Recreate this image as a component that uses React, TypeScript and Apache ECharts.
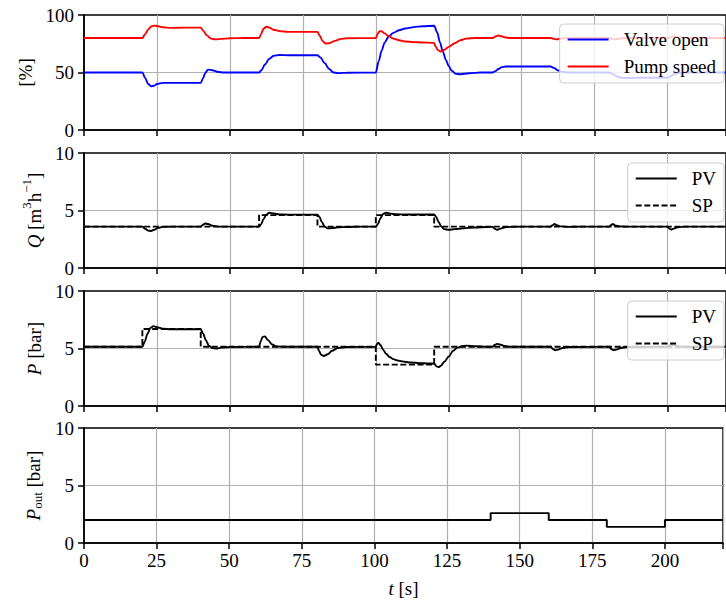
import React, { useEffect, useRef } from "react";
import * as echarts from "echarts";

const FONT = "Liberation Serif";
const FS = 19;

// time axis
const tMin = 0;
const tMax = 220;
const tStep = 25;

// Panel 1: [%]
const valveOpen: [number, number][] = [
  [0, 50], [20, 50], [21, 45], [22, 40], [23, 38], [24, 38.5], [25, 40], [27, 41], [30, 41], [40, 41],
  [40.8, 45], [41.5, 49.5], [42.5, 52.5], [44, 52], [46, 50.5], [48, 50], [60, 50],
  [60.8, 52], [62, 57], [63.5, 62], [65, 64.5], [67, 65.2], [70, 65], [80, 65],
  [81, 63], [82.5, 58], [84, 53], [85.5, 50], [87, 49.5], [90, 49.8], [100, 50],
  [101, 60], [102, 69], [103, 76], [104.5, 81.5], [106, 84.5], [108, 86.8], [110, 88.2], [113, 89.5], [116, 90.2], [120, 90.6],
  [121, 85], [122, 76], [123, 68], [124, 61], [125, 55.5], [126, 51.5], [127.5, 48.8], [129, 48.5], [132, 49.3], [136, 50], [140, 50],
  [141, 51.2], [142, 53], [143, 54.5], [144.5, 55.2], [147, 55.3], [160, 55.2],
  [161, 54], [162.5, 51.8], [164, 50.5], [166, 50], [180, 50],
  [181, 48.8], [182.5, 46.8], [184, 45.5], [186, 45.2], [190, 45.4], [200, 45.5],
  [201, 46.8], [202.5, 48.8], [204, 49.8], [206, 50], [220, 50],
];
const pumpSpeed: [number, number][] = [
  [0, 80], [20, 80], [21, 83.5], [22, 87.5], [23, 90], [24, 90.8], [25, 90.5], [27, 89.3], [30, 88.8], [35, 89], [40, 89],
  [41, 86], [42, 82.5], [43.5, 79.5], [45, 78.8], [47, 79.2], [50, 79.8], [55, 80], [60, 80],
  [60.7, 83.5], [61.5, 88], [62.5, 89.8], [63.5, 89], [65, 87.2], [67, 86], [70, 85.3], [80, 85.3],
  [80.8, 82], [81.7, 77.5], [82.7, 75.2], [84, 75.5], [86, 77.5], [88, 79.2], [90, 79.8], [100, 80],
  [100.6, 83.5], [101.3, 86], [102, 85.8], [103, 84], [104.5, 81.5], [106, 79.5], [108, 78], [110, 77], [113, 76.4], [116, 76.1], [120, 75.8],
  [120.5, 72.5], [121.3, 69.5], [122.2, 68.3], [123.5, 69.8], [125, 72.3], [127, 75.5], [129, 78], [131, 79.5], [134, 80], [140, 80],
  [141, 81.3], [142, 82.2], [143, 81.5], [144.5, 80.5], [146, 80], [160, 80],
  [161, 79.2], [162, 78.8], [163.5, 79.5], [166, 80], [180, 80],
  [181, 79.2], [182, 78.8], [183.5, 79.5], [186, 80], [200, 80],
  [201, 80.8], [202, 81.3], [203.5, 80.6], [206, 80], [220, 80],
];

// Panel 2: Q [m3/h]
const flowPV: [number, number][] = [
  [0, 3.6], [20, 3.6], [21, 3.4], [22, 3.25], [23, 3.22], [24, 3.32], [25.5, 3.5], [27, 3.58], [30, 3.6], [40, 3.6],
  [40.7, 3.75], [41.5, 3.87], [42.5, 3.82], [44, 3.68], [46, 3.6], [60, 3.6],
  [60.7, 3.8], [61.5, 4.25], [62.5, 4.65], [63.5, 4.8], [65, 4.74], [67, 4.66], [70, 4.64], [80, 4.64],
  [80.7, 4.45], [81.5, 4.0], [82.5, 3.6], [83.5, 3.45], [85, 3.47], [87, 3.53], [90, 3.57], [95, 3.6], [100, 3.6],
  [100.7, 3.8], [101.5, 4.3], [102.5, 4.7], [103.5, 4.8], [105, 4.73], [107, 4.67], [110, 4.65], [120, 4.65],
  [120.7, 4.45], [121.5, 4.0], [122.5, 3.6], [123.5, 3.38], [125, 3.32], [127, 3.38], [130, 3.45], [134, 3.52], [138, 3.57], [140, 3.58],
  [140.7, 3.42], [141.5, 3.32], [142.5, 3.4], [144, 3.52], [146, 3.58], [150, 3.6], [160, 3.6],
  [160.5, 3.72], [161.2, 3.82], [162, 3.72], [163.5, 3.62], [166, 3.58], [170, 3.6], [180, 3.6],
  [180.5, 3.72], [181.2, 3.82], [182, 3.7], [183.5, 3.62], [186, 3.6], [200, 3.6],
  [200.5, 3.45], [201.2, 3.35], [202, 3.42], [203.5, 3.55], [206, 3.6], [220, 3.6],
];
const flowSP: [number, number][] = [
  [0, 3.6], [60, 3.6], [60, 4.6], [80, 4.6], [80, 3.6], [100, 3.6], [100, 4.6], [120, 4.6], [120, 3.6], [220, 3.6],
];

// Panel 3: P [bar]
const pressurePV: [number, number][] = [
  [0, 5.15], [20, 5.15], [20.8, 5.6], [21.8, 6.3], [22.8, 6.8], [23.8, 6.95], [25, 6.85], [27, 6.72], [30, 6.68], [40, 6.68],
  [40.8, 6.3], [41.8, 5.7], [42.8, 5.25], [44, 5.03], [45.5, 5.0], [47, 5.08], [50, 5.13], [60, 5.15],
  [60.5, 5.6], [61.2, 6.0], [62, 6.05], [63, 5.75], [64.5, 5.35], [66, 5.17], [70, 5.15], [80, 5.15],
  [80.5, 4.8], [81.3, 4.45], [82.2, 4.35], [83.5, 4.5], [85, 4.8], [87, 5.05], [90, 5.13], [100, 5.15],
  [100.4, 5.4], [100.9, 5.5], [101.6, 5.3], [102.5, 4.9], [103.5, 4.55], [104.7, 4.26], [106, 4.08], [107.5, 3.96], [109, 3.88],
  [112, 3.78], [115, 3.73], [118, 3.7], [120, 3.68],
  [120.8, 3.45], [121.5, 3.38], [122.3, 3.5], [123.5, 3.85], [125, 4.3], [126.5, 4.8], [128, 5.08], [129.5, 5.2], [131, 5.25], [134, 5.2], [138, 5.15], [140, 5.15],
  [140.7, 5.3], [141.5, 5.4], [142.5, 5.35], [144, 5.22], [146, 5.15], [160, 5.15],
  [160.7, 4.95], [161.5, 4.85], [162.5, 4.9], [164, 5.05], [166, 5.13], [180, 5.15],
  [180.7, 4.95], [181.5, 4.85], [182.5, 4.9], [184, 5.05], [186, 5.13], [200, 5.15],
  [200.7, 5.28], [201.5, 5.33], [202.5, 5.27], [204, 5.18], [206, 5.15], [220, 5.15],
];
const pressureSP: [number, number][] = [
  [0, 5.15], [20, 5.15], [20, 6.7], [40, 6.7], [40, 5.15], [100, 5.15], [100, 3.6], [120, 3.6], [120, 5.15], [220, 5.15],
];

// Panel 4: P_out [bar]
const outletPressure: [number, number][] = [
  [0, 2.0], [140, 2.0], [140, 2.6], [160, 2.6], [160, 2.0], [180, 2.0], [180, 1.4], [200, 1.4], [200, 2.0], [220, 2.0],
];

const PANEL_TOPS = [15, 153, 291, 428];
const PANEL_H = 115;
const GRID_LEFT = 84;
const GRID_W = 650;

const txt = { fontFamily: FONT, fontSize: FS, color: "#000" };

function makeX(gi: number, last: boolean) {
  return {
    type: "value",
    gridIndex: gi,
    min: tMin,
    max: tMax,
    interval: tStep,
    axisLine: { show: true, onZero: false, lineStyle: { color: "#000", width: 1.5 } },
    axisTick: { show: true, length: 6, lineStyle: { color: "#000", width: 1.5 } },
    axisLabel: {
      show: last,
      ...txt,
      margin: 8,
      formatter: (v: number) => (v % tStep === 0 ? String(v) : ""),
    },
    splitLine: { show: true, showMinLine: false, lineStyle: { color: "#b0b0b0", width: 1.2 } },
    name: last ? "{i|t}{n| [s]}" : "",
    nameLocation: "middle",
    nameGap: 36,
    nameTextStyle: {
      ...txt,
      rich: {
        i: { ...txt, fontStyle: "italic" },
        n: { ...txt },
      },
    },
  };
}

function makeY(gi: number, max: number, interval: number, name: string, nameGap: number, rich: any) {
  return {
    type: "value",
    gridIndex: gi,
    min: 0,
    max,
    interval,
    axisLine: { show: true, onZero: false, lineStyle: { color: "#000", width: 1.5 } },
    axisTick: { show: true, length: 6, lineStyle: { color: "#000", width: 1.5 } },
    axisLabel: { ...txt, margin: 10 },
    splitLine: { show: true, showMinLine: false, showMaxLine: false, lineStyle: { color: "#b0b0b0", width: 1.2 } },
    name,
    nameLocation: "middle",
    nameRotate: 90,
    nameGap,
    nameTextStyle: { ...txt, rich },
  };
}

const richSup = {
  i: { ...txt, fontStyle: "italic", lineHeight: 24, verticalAlign: "bottom" },
  n: { ...txt, lineHeight: 24, verticalAlign: "bottom" },
  sup: { ...txt, fontSize: 13, lineHeight: 13, verticalAlign: "top" },
};
const richSub = {
  i: { ...txt, fontStyle: "italic", lineHeight: 20, verticalAlign: "top" },
  n: { ...txt, lineHeight: 20, verticalAlign: "top" },
  sub: { ...txt, fontSize: 13, lineHeight: 13, verticalAlign: "bottom", padding: [10, 0, 0, 0] },
};
const richPlain = {
  i: { ...txt, fontStyle: "italic" },
  n: { ...txt },
};

function lineSeries(name: string, gi: number, data: [number, number][], color: string, dashed: boolean, smooth: boolean) {
  return {
    type: "line",
    name,
    xAxisIndex: gi,
    yAxisIndex: gi,
    data,
    symbol: "none",
    showSymbol: false,
    smooth: smooth ? 0.3 : false,
    smoothMonotone: "x",
    lineStyle: { color, width: 1.9, type: dashed ? [6, 2.6] : "solid" },
    itemStyle: { color },
    emphasis: { disabled: true },
  };
}

function makeLegend(names: string[], top: number) {
  return {
    data: names,
    orient: "vertical",
    right: 2,
    top,
    itemWidth: 41,
    itemHeight: 19,
    itemGap: 8,
    padding: [6, 8, 7, 7],
    backgroundColor: "rgba(255,255,255,0.8)",
    borderColor: "#cccccc",
    borderWidth: 1,
    borderRadius: 4,
    selectedMode: false,
    itemStyle: { opacity: 0 },
    textStyle: { ...txt, lineHeight: 19, padding: [0, 0, 0, 10] },
  };
}

export default function App() {
  const ref = useRef<HTMLDivElement>(null);
  useEffect(() => {
    if (!ref.current) return;
    const chart = echarts.init(ref.current, undefined, { renderer: "svg" });
    const option: any = {
      animation: false,
      backgroundColor: "#fff",
      textStyle: { fontFamily: FONT },
      grid: PANEL_TOPS.map((top) => ({
        left: GRID_LEFT,
        width: GRID_W,
        top,
        height: PANEL_H,
        show: true,
        borderColor: "#000",
        borderWidth: 1.5,
        backgroundColor: "transparent",
        containLabel: false,
      })),
      xAxis: [makeX(0, false), makeX(1, false), makeX(2, false), makeX(3, true)],
      yAxis: [
        makeY(0, 100, 50, "{n|[%]}", 48, richPlain),
        makeY(1, 10, 5, "{i|Q}{n| [m}{sup|3}{n|h}{sup|−1}{n|]}", 37, richSup),
        makeY(2, 10, 5, "{i|P}{n| [bar]}", 39, richPlain),
        makeY(3, 10, 5, "{i|P}{sub|out}{n| [bar]}", 39, richSub),
      ],
      legend: [
        makeLegend(["Valve open", "Pump speed"], 24),
        makeLegend(["PV", "SP"], 163),
        makeLegend(["PV", "SP"], 301),
      ],
      series: [
        lineSeries("Valve open", 0, valveOpen, "#0000ff", false, true),
        lineSeries("Pump speed", 0, pumpSpeed, "#ff0000", false, true),
        lineSeries("PV", 1, flowPV, "#000000", false, true),
        lineSeries("SP", 1, flowSP, "#000000", true, false),
        lineSeries("PV", 2, pressurePV, "#000000", false, true),
        lineSeries("SP", 2, pressureSP, "#000000", true, false),
        lineSeries("P_out", 3, outletPressure, "#000000", false, false),
      ],
    };
    chart.setOption(option);
    return () => chart.dispose();
  }, []);
  return (
    <div
      ref={ref}
      style={{ position: "fixed", left: 0, top: 0, width: 726, height: 607, background: "#fff" }}
    />
  );
}
